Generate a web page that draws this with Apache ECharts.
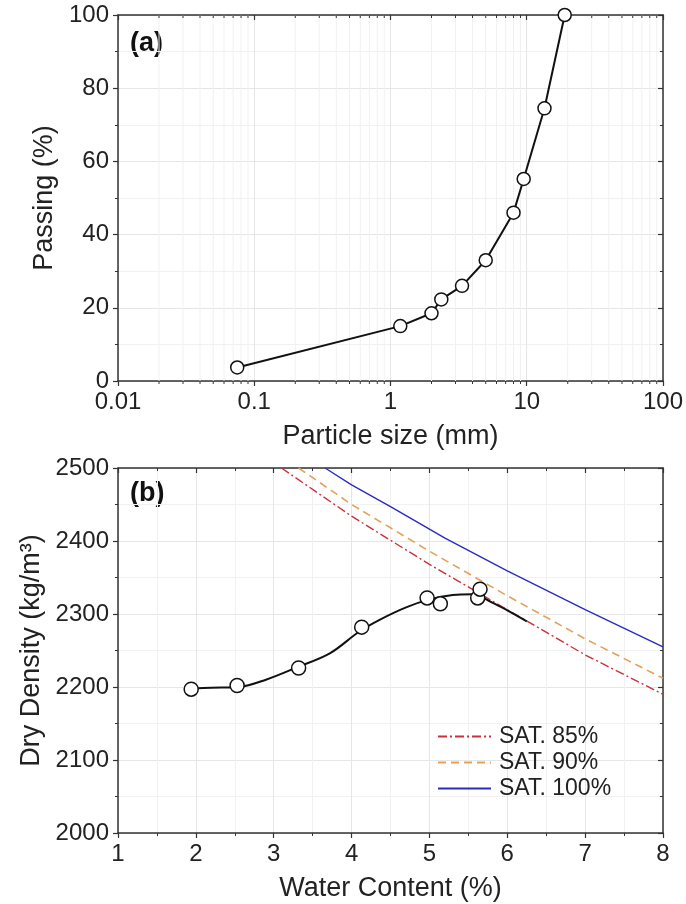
<!DOCTYPE html>
<html>
<head>
<meta charset="utf-8">
<script src="https://cdn.jsdelivr.net/npm/echarts@6/dist/echarts.min.js"></script>
<style>
html,body{margin:0;padding:0;background:#fff;}
#chart{width:686px;height:904px;}
</style>
</head>
<body>
<div id="chart"></div>
<script>
// ---- Panel (a): particle size distribution ----
const particleSize = [0.075, 1.18, 2.0, 2.36, 3.35, 5.0, 8.0, 9.5, 13.5, 19.0];
const passing      = [3.7, 15.0, 18.5, 22.3, 26.0, 33.0, 46.0, 55.2, 74.5, 100];
const logMinorTicks = [0.02,0.03,0.04,0.05,0.06,0.07,0.08,0.09,
                       0.2,0.3,0.4,0.5,0.6,0.7,0.8,0.9,
                       2,3,4,5,6,7,8,9,
                       20,30,40,50,60,70,80,90];

// ---- Panel (b): compaction ----
const waterContent = [1.94, 2.53, 3.32, 4.13, 4.97, 5.14, 5.62, 5.65];
const dryDensity   = [2197, 2202, 2226, 2282, 2322, 2314, 2322, 2334];
const fitWater   = [1.94, 2.2, 2.55, 2.9, 3.3, 3.72, 4.1, 4.36, 4.7, 5.0, 5.3, 5.55, 5.8, 6.0, 6.25];
const fitDensity = [2198, 2199, 2200, 2210, 2227, 2246, 2276, 2292, 2309, 2320, 2326, 2327, 2316, 2305, 2290];
const sat85Water   = [3.1, 4, 5, 6, 7, 8];
const sat85Density = [2500, 2434, 2368, 2306, 2244, 2190];
const sat90Water   = [3.32, 4, 5, 6, 7, 8];
const sat90Density = [2500, 2450, 2386, 2325, 2266, 2212];
const sat100Water   = [3.66, 4, 4.5, 5.2, 6, 7, 8];
const sat100Density = [2500, 2477, 2447, 2404, 2359, 2306, 2255];

const zip = (a, b) => a.map((v, i) => [v, b[i]]);

const FONT = "'Liberation Sans', Arial, sans-serif";
const AX = '#333';
const LBL = '#222';
const GRID_MAJOR = '#e6e6e6';
const GRID_MINOR = '#f1f1f1';

function mainAxis(extra) {
  return Object.assign({
    axisLine: {show: true, onZero: false, lineStyle: {color: AX, width: 1.5}},
    axisTick: {show: true, inside: false, length: 5, lineStyle: {color: AX, width: 1.2}},
    axisLabel: {show: true, fontSize: 24, color: LBL, fontFamily: FONT, margin: 9,
      formatter: v => String(v)},
    splitLine: {show: true, lineStyle: {color: GRID_MAJOR, width: 1}},
    nameLocation: 'middle',
    nameTextStyle: {fontSize: 27, color: LBL, fontFamily: FONT}
  }, extra);
}
function mirrorAxis(extra) {
  return Object.assign({
    axisLine: {show: true, onZero: false, lineStyle: {color: AX, width: 1.5}},
    axisTick: {show: true, inside: true, length: 5, lineStyle: {color: AX, width: 1.2}},
    axisLabel: {show: false},
    splitLine: {show: false}
  }, extra);
}
const minorT = (inside) => ({show: true, splitNumber: 2, length: 3, inside: inside, lineStyle: {color: AX, width: 1}});

const chart = echarts.init(document.getElementById('chart'), null, {renderer: 'canvas'});

const option = {
  backgroundColor: '#fff',
  animation: false,
  textStyle: {fontFamily: FONT},
  grid: [
    {left: 118, top: 15, width: 545, height: 366},
    {left: 118, top: 468, width: 545, height: 365}
  ],
  xAxis: [
    mainAxis({gridIndex: 0, type: 'log', logBase: 10, min: 0.01, max: 100, position: 'bottom',
      name: 'Particle size (mm)', nameGap: 42}),
    mirrorAxis({gridIndex: 0, type: 'log', logBase: 10, min: 0.01, max: 100, position: 'top'}),
    mainAxis({gridIndex: 1, type: 'value', min: 1, max: 8, interval: 1, position: 'bottom',
      name: 'Water Content (%)', nameGap: 42,
      minorTick: minorT(false),
      minorSplitLine: {show: true, lineStyle: {color: GRID_MINOR}}}),
    mirrorAxis({gridIndex: 1, type: 'value', min: 1, max: 8, interval: 1, position: 'top',
      minorTick: minorT(true)})
  ],
  yAxis: [
    mainAxis({gridIndex: 0, type: 'value', min: 0, max: 100, interval: 20, position: 'left',
      name: 'Passing (%)', nameGap: 48,
      minorTick: minorT(false),
      minorSplitLine: {show: true, lineStyle: {color: GRID_MINOR}}}),
    mirrorAxis({gridIndex: 0, type: 'value', min: 0, max: 100, interval: 20, position: 'right',
      minorTick: minorT(true)}),
    mainAxis({gridIndex: 1, type: 'value', min: 2000, max: 2500, interval: 100, position: 'left',
      name: 'Dry Density (kg/m³)', nameGap: 72,
      minorTick: minorT(false),
      minorSplitLine: {show: true, lineStyle: {color: GRID_MINOR}}}),
    mirrorAxis({gridIndex: 1, type: 'value', min: 2000, max: 2500, interval: 100, position: 'right',
      minorTick: minorT(true)})
  ],
  legend: {
    orient: 'vertical',
    left: 432, top: 720,
    itemWidth: 53, itemHeight: 12, itemGap: 3,
    itemStyle: {opacity: 0},
    textStyle: {fontSize: 23, color: LBL, fontFamily: FONT, padding: [0, 0, 0, 3]},
    data: ['SAT. 85%', 'SAT. 90%', 'SAT. 100%'],
    selectedMode: false
  },
  graphic: [
    {type: 'text', left: 130, top: 30, style: {text: '(a)', font: "bold 27px " + FONT, fill: '#111'}},
    {type: 'text', left: 130, top: 480, style: {text: '(b)', font: "bold 27px " + FONT, fill: '#111'}}
  ],
  series: [
    {
      type: 'custom', xAxisIndex: 0, yAxisIndex: 0, silent: true, z: 1,
      data: logMinorTicks.map(v => [v, 0]),
      encode: {x: 0, y: 1},
      renderItem: function (params, api) {
        const v = api.value(0);
        const b = api.coord([v, 0]);
        const t = api.coord([v, 100]);
        return {type: 'group', children: [
          {type: 'line', shape: {x1: b[0], y1: b[1], x2: t[0], y2: t[1]}, style: {stroke: GRID_MINOR, lineWidth: 1}},
          {type: 'line', shape: {x1: b[0], y1: b[1], x2: b[0], y2: b[1] + 3}, style: {stroke: AX, lineWidth: 1}},
          {type: 'line', shape: {x1: t[0], y1: t[1], x2: t[0], y2: t[1] + 3}, style: {stroke: AX, lineWidth: 1}}
        ]};
      }
    },
    {
      type: 'line', xAxisIndex: 0, yAxisIndex: 0, z: 5,
      data: zip(particleSize, passing),
      symbol: 'circle', symbolSize: 13, showSymbol: true,
      lineStyle: {color: '#111', width: 2},
      itemStyle: {color: '#fff', borderColor: '#111', borderWidth: 1.5}
    },
    {
      name: 'SAT. 85%', type: 'line', xAxisIndex: 2, yAxisIndex: 2, z: 3,
      data: zip(sat85Water, sat85Density), symbol: 'none',
      lineStyle: {color: '#cc3038', width: 1.4, type: [9, 3, 2, 3]},
      itemStyle: {color: '#cc3038'}
    },
    {
      name: 'SAT. 90%', type: 'line', xAxisIndex: 2, yAxisIndex: 2, z: 3,
      data: zip(sat90Water, sat90Density), symbol: 'none',
      lineStyle: {color: '#e3a15a', width: 1.6, type: [8, 5]},
      itemStyle: {color: '#e3a15a'}
    },
    {
      name: 'SAT. 100%', type: 'line', xAxisIndex: 2, yAxisIndex: 2, z: 3,
      data: zip(sat100Water, sat100Density), symbol: 'none',
      lineStyle: {color: '#2b2bc4', width: 1.4},
      itemStyle: {color: '#2b2bc4'}
    },
    {
      type: 'line', xAxisIndex: 2, yAxisIndex: 2, z: 4,
      data: zip(fitWater, fitDensity), symbol: 'none', smooth: 0.35,
      lineStyle: {color: '#111', width: 2}
    },
    {
      type: 'scatter', xAxisIndex: 2, yAxisIndex: 2, z: 6,
      data: zip(waterContent, dryDensity),
      symbol: 'circle', symbolSize: 14,
      itemStyle: {color: '#fff', opacity: 1, borderColor: '#111', borderWidth: 1.5}
    }
  ]
};
chart.setOption(option);
</script>
</body>
</html>
